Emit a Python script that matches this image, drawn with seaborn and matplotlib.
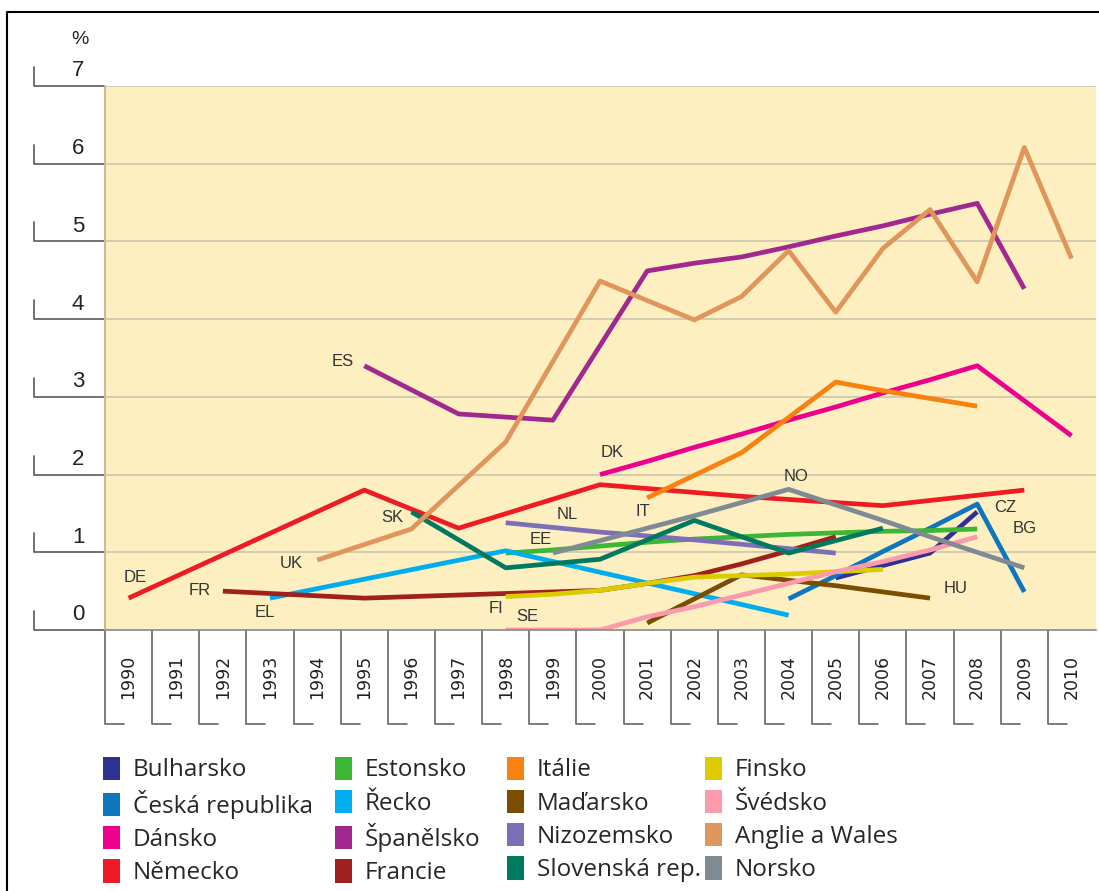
import numpy as np
import pandas as pd
import seaborn as sns
import matplotlib.pyplot as plt
from matplotlib.patches import Patch
from matplotlib.lines import Line2D

# --- data (%) ---
bg_years = [2005, 2006, 2007, 2008]
bg_vals = [0.67, 0.83, 0.99, 1.52]
cz_years = [2004, 2005, 2006, 2007, 2008, 2009]
cz_vals = [0.40, 0.70, 1.01, 1.31, 1.62, 0.49]
dk_years = [2000, 2001, 2002, 2003, 2004, 2005, 2006, 2007, 2008, 2009, 2010]
dk_vals = [2.00, 2.17, 2.35, 2.52, 2.70, 2.87, 3.05, 3.22, 3.40, 2.95, 2.50]
de_years = [1990, 1995, 1997, 2000, 2003, 2006, 2009]
de_vals = [0.41, 1.80, 1.31, 1.87, 1.72, 1.60, 1.80]
ee_years = [1998, 1999, 2000, 2001, 2002, 2003, 2004, 2005, 2006, 2007, 2008]
ee_vals = [0.99, 1.03, 1.08, 1.13, 1.17, 1.20, 1.23, 1.25, 1.27, 1.28, 1.30]
el_years = [1993, 1998, 2004]
el_vals = [0.41, 1.02, 0.19]
es_years = [1995, 1997, 1999, 2001, 2002, 2003, 2004, 2005, 2006, 2007, 2008, 2009]
es_vals = [3.40, 2.78, 2.70, 4.62, 4.72, 4.80, 4.93, 5.07, 5.20, 5.35, 5.49, 4.39]
fr_years = [1992, 1995, 1998, 2000, 2001, 2002, 2003, 2004, 2005]
fr_vals = [0.50, 0.41, 0.47, 0.51, 0.60, 0.70, 0.85, 1.02, 1.20]
it_years = [2001, 2003, 2005, 2006, 2007, 2008]
it_vals = [1.70, 2.28, 3.19, 3.08, 2.98, 2.88]
hu_years = [2001, 2003, 2005, 2007]
hu_vals = [0.09, 0.71, 0.57, 0.41]
nl_years = [1998, 2000, 2002, 2005]
nl_vals = [1.38, 1.26, 1.16, 0.99]
sk_years = [1996, 1998, 2000, 2002, 2004, 2006]
sk_vals = [1.52, 0.80, 0.91, 1.41, 0.99, 1.31]
fi_years = [1998, 1999, 2000, 2001, 2002, 2003, 2004, 2005, 2006]
fi_vals = [0.43, 0.46, 0.51, 0.60, 0.68, 0.70, 0.72, 0.75, 0.78]
se_years = [1998, 1999, 2000, 2001, 2002, 2003, 2004, 2005, 2006, 2007, 2008]
se_vals = [0.00, 0.00, 0.00, 0.17, 0.30, 0.45, 0.60, 0.75, 0.88, 1.03, 1.20]
uk_years = [1994, 1996, 1998, 2000, 2002, 2003, 2004, 2005, 2006, 2007, 2008, 2009, 2010]
uk_vals = [0.90, 1.30, 2.42, 4.49, 3.99, 4.29, 4.88, 4.09, 4.91, 5.41, 4.48, 6.21, 4.78]
no_years = [1999, 2000, 2001, 2002, 2003, 2004, 2005, 2006, 2007, 2008, 2009]
no_vals = [0.99, 1.15, 1.31, 1.47, 1.64, 1.81, 1.61, 1.41, 1.20, 1.00, 0.80]

# legend order (column-major, 4 columns)
countries = ["Bulharsko", "Česká republika", "Dánsko", "Německo",
             "Estonsko", "Řecko", "Španělsko", "Francie",
             "Itálie", "Maďarsko", "Nizozemsko", "Slovenská rep.",
             "Finsko", "Švédsko", "Anglie a Wales", "Norsko"]
series = [(bg_years, bg_vals), (cz_years, cz_vals), (dk_years, dk_vals), (de_years, de_vals),
          (ee_years, ee_vals), (el_years, el_vals), (es_years, es_vals), (fr_years, fr_vals),
          (it_years, it_vals), (hu_years, hu_vals), (nl_years, nl_vals), (sk_years, sk_vals),
          (fi_years, fi_vals), (se_years, se_vals), (uk_years, uk_vals), (no_years, no_vals)]
colors = ["#2e3192", "#0f75bc", "#ec008c", "#ed1c24",
          "#3cb635", "#00aeef", "#a0288f", "#a0201d",
          "#f7820f", "#7a4d00", "#7c6fb6", "#007a5e",
          "#dccb00", "#fb9aac", "#e0955a", "#7f8b93"]
codes = ["BG", "CZ", "DK", "DE", "EE", "EL", "ES", "FR",
         "IT", "HU", "NL", "SK", "FI", "SE", "UK", "NO"]
# label anchor positions (year, %)
code_x = [2009.0, 2008.6, 2000.25, 1990.15, 1998.75, 1992.9, 1994.55, 1991.5,
          2000.9, 2007.55, 1999.3, 1995.6, 1997.8, 1998.45, 1993.45, 2004.15]
code_y = [1.31, 1.57, 2.28, 0.68, 1.17, 0.23, 3.45, 0.51,
          1.52, 0.54, 1.48, 1.45, 0.28, 0.18, 0.86, 1.98]

years = list(range(1990, 2011))

rows = []
for name, (ys, vs) in zip(countries, series):
    for y, v in zip(ys, vs):
        rows.append({"rok": y, "hodnota": v, "zeme": name})
df = pd.DataFrame(rows)
palette = dict(zip(countries, colors))

sns.set_style("white")
plt.rcParams["font.family"] = ["Liberation Sans", "DejaVu Sans"]

W, H = 1099, 891
fig = plt.figure(figsize=(W / 100, H / 100), dpi=100)
ax_left, ax_right, ax_top, ax_bot = 105, 1096, 86, 630
ax = fig.add_axes([ax_left / W, 1 - ax_bot / H, (ax_right - ax_left) / W, (ax_bot - ax_top) / H])
ax.set_facecolor("#fdefbf")

sns.lineplot(data=df, x="rok", y="hodnota", hue="zeme", hue_order=countries,
             palette=palette, linewidth=3.4, legend=False, ax=ax, sort=True,
             estimator=None, solid_capstyle="butt")

ax.set_xlim(1989.5, 2010.52)
ax.set_ylim(0, 7)
for v in range(1, 8):
    ax.axhline(v, color="#cbc4b0", lw=1.2, zorder=0)
ax.set_xticks([])
ax.set_yticks([])
ax.set_xlabel("")
ax.set_ylabel("")
for s in ["top", "right"]:
    ax.spines[s].set_visible(False)
ax.spines["left"].set_color("#c9bb98")
ax.spines["left"].set_linewidth(1.5)
ax.spines["bottom"].set_color("#8a8a8a")
ax.spines["bottom"].set_linewidth(1.2)

# country codes
for c, x, y in zip(codes, code_x, code_y):
    ax.text(x, y, c, fontsize=12, color="#333333", ha="center", va="center",
            family="Liberation Sans")

# y-axis bracket ticks
axw = ax_right - ax_left
ytr = ax.get_yaxis_transform()
unit = (ax_bot - ax_top) / 7
for v in range(0, 8):
    x0 = (34 - ax_left) / axw
    ax.plot([x0, x0, 0], [v + 19 / unit, v, v], transform=ytr, clip_on=False,
            color="#666666", lw=1.3)
    ax.text((78 - ax_left) / axw, v + 15 / unit, str(v), transform=ytr,
            fontsize=16, ha="center", va="center", color="#222222",
            family="Liberation Sans")
ax.text((80 - ax_left) / axw, 7 + 46 / unit, "%", transform=ytr,
        fontsize=14, ha="center", va="center", color="#222222",
        family="Liberation Sans")

# year label boxes
xtr = ax.get_xaxis_transform()
axh = ax_bot - ax_top
yb = -(724 - ax_bot) / axh
colw = axw / 21.02
for yr in years:
    xs = yr - 0.5
    ax.plot([xs, xs, xs + 19 / colw], [0, yb, yb], transform=xtr, clip_on=False,
            color="#666666", lw=1.2)
    ax.text(yr, -(677 - ax_bot) / axh, str(yr), transform=xtr, rotation=90,
            fontsize=12.5, ha="center", va="center", color="#222222",
            family="DejaVu Sans")

# legend: four fixed columns
col_x = [103, 335, 507, 705]
for k, cx in enumerate(col_x):
    handles = [Patch(facecolor=c, edgecolor="none") for c in colors[4 * k:4 * k + 4]]
    leg = fig.legend(handles, countries[4 * k:4 * k + 4], loc="upper left",
                     bbox_to_anchor=((cx - 9) / W, 1 - 748 / H), frameon=False,
                     prop={"family": "Open Sans", "size": 17.5},
                     handlelength=0.7, handleheight=1.1, handletextpad=0.55,
                     labelspacing=0.3, borderaxespad=0, borderpad=0.35)

# outer border (left and top)
fig.add_artist(Line2D([7 / W, 7 / W, 1], [0, 1 - 12 / H, 1 - 12 / H],
                      transform=fig.transFigure, color="black", lw=1.5))

fig.savefig("out.png", dpi=100)
